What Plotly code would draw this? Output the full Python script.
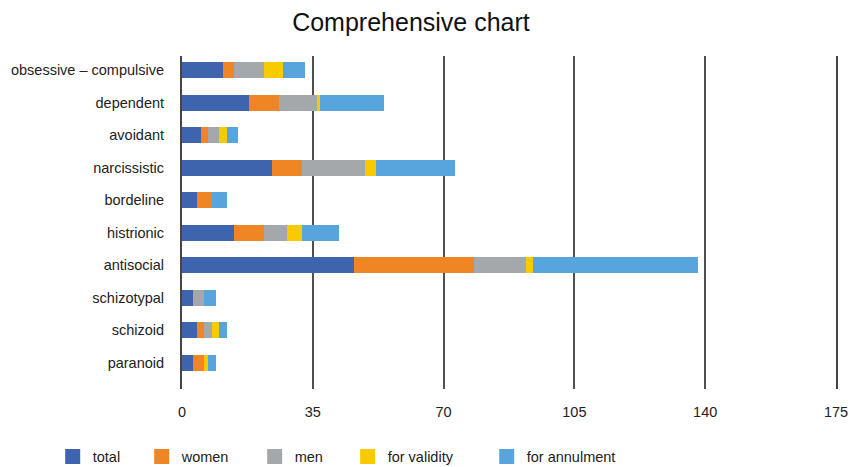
import plotly.graph_objects as go

# Disorder categories, listed bottom to top as drawn on the y axis
categories = ["paranoid", "schizoid", "schizotypal", "antisocial", "histrionic",
              "bordeline", "narcissistic", "avoidant", "dependent",
              "obsessive \u2013 compulsive"]

total = [3, 4, 3, 46, 14, 4, 24, 5, 18, 11]
women = [3, 2, 0, 32, 8, 4, 8, 2, 8, 3]
men = [0, 2, 3, 14, 6, 0, 17, 3, 10, 8]
for_validity = [1, 2, 0, 2, 4, 0, 3, 2, 1, 5]
for_annulment = [2, 2, 3, 44, 10, 4, 21, 3, 17, 6]

x_ticks = [0, 35, 70, 105, 140, 175]

series = [
    ("total", total, "#3E64AE"),
    ("women", women, "#EF8523"),
    ("men", men, "#A5A8AB"),
    ("for validity", for_validity, "#FACA00"),
    ("for annulment", for_annulment, "#57A5DC"),
]

# Each series gets its own legend box so the entries sit where they belong
legend_x = [0.062, 0.1667, 0.2996, 0.409, 0.5726]

fig = go.Figure()
for i, (name, vals, color) in enumerate(series):
    lg = "legend" if i == 0 else f"legend{i + 1}"
    fig.add_trace(go.Bar(
        y=categories, x=vals, name=name, orientation="h",
        marker=dict(color=color, line=dict(width=0)),
        width=0.49, showlegend=False, legendgroup=name,
    ))
    # legend key drawn as a larger square swatch
    fig.add_trace(go.Scatter(
        x=[None], y=[None], mode="markers", name=name, legend=lg,
        legendgroup=name, showlegend=True, hoverinfo="skip",
        marker=dict(symbol="square", size=15, color=color, line=dict(width=0)),
    ))

font_family = "Liberation Sans, Arial, sans-serif"
layout_legends = {}
for i, lx in enumerate(legend_x):
    key = "legend" if i == 0 else f"legend{i + 1}"
    layout_legends[key] = dict(
        x=lx, y=-0.203, xref="container", yref="paper", xanchor="left", yanchor="middle",
        orientation="h", bgcolor="rgba(0,0,0,0)",
        font=dict(family=font_family, size=14.5, color="#222222"),
        itemwidth=30, tracegroupgap=0,
    )

fig.update_layout(
    barmode="stack",
    showlegend=True,
    width=850, height=467,
    margin=dict(l=182, r=14, t=56, b=78, autoexpand=False),
    paper_bgcolor="white", plot_bgcolor="white",
    title=dict(text="Comprehensive chart", x=0.4835, xref="container", xanchor="center",
               y=0.953, yanchor="middle",
               font=dict(family=font_family, size=25, color="#111111")),
    font=dict(family=font_family, size=14.5, color="#222222"),
    bargap=0.5,
    xaxis=dict(
        range=[0, 175], tickvals=x_ticks, ticktext=[str(v) for v in x_ticks],
        showgrid=True, gridcolor="#505050", gridwidth=1.8,
        zeroline=False, showline=False, ticks="", ticklabelstandoff=12,
        tickfont=dict(family=font_family, size=14.5, color="#222222"),
        fixedrange=True, automargin=False,
    ),
    yaxis=dict(
        range=[-0.8, 9.43], showgrid=False, zeroline=False,
        showline=True, linecolor="#454545", linewidth=2, mirror=True,
        ticks="", ticklabelstandoff=13,
        tickfont=dict(family=font_family, size=14.5, color="#222222"),
        fixedrange=True, automargin=False,
    ),
    **layout_legends,
)

fig.write_html("out.html")
